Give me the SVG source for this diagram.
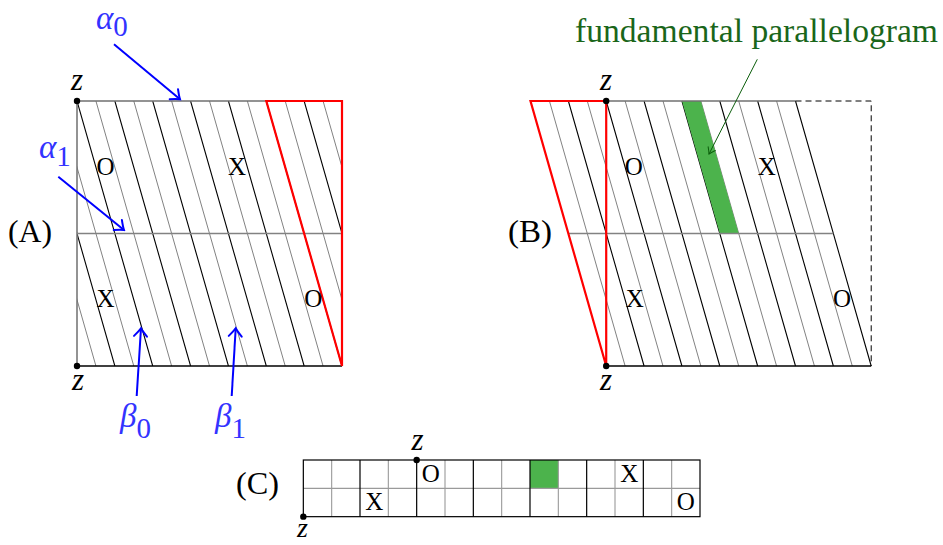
<svg xmlns="http://www.w3.org/2000/svg" width="943" height="545" viewBox="0 0 943 545">
<style>
.bk{stroke:#000;stroke-width:1.1;fill:none}
.gr{stroke:#828282;stroke-width:1;fill:none}
.bd{stroke:#707070;stroke-width:1.5;fill:none}
.bb{stroke:#000;stroke-width:1.4;fill:none}
.red{stroke:#ff0000;stroke-width:2.2;fill:none;stroke-linejoin:miter}
.dash{stroke:#000;stroke-width:1;fill:none;stroke-dasharray:6,4}
.lab{font-family:"Liberation Serif","DejaVu Serif",serif;font-size:25px;fill:#000;text-anchor:middle}
.pl{font-family:"Liberation Serif","DejaVu Serif",serif;font-size:31px;fill:#000}
.z{font-family:"Liberation Serif","DejaVu Serif",serif;font-style:italic;font-size:31px;fill:#000;text-anchor:middle}
.gk{font-family:"Liberation Serif","DejaVu Serif",serif;fill:#3333ff}
.ba{stroke:#0000ff;stroke-width:2;fill:none}
.ga{stroke:#0b5e0b;stroke-width:1;fill:none}
.cg{stroke:#9a9a9a;stroke-width:1.1;fill:none}
.cb{stroke:#000;stroke-width:1.2;fill:none}
</style>
<defs>
<clipPath id="clipA"><rect x="77" y="101" width="265" height="265"/></clipPath>
<marker id="ab" markerUnits="userSpaceOnUse" viewBox="-10 -8 12 16" refX="0" refY="0" markerWidth="12" markerHeight="16" orient="auto"><path d="M-8,-6.5 Q-2.5,-1.5 0,0 Q-2.5,1.5 -8,6.5" fill="none" stroke="#0000ff" stroke-width="2" stroke-linecap="round"/></marker>
<marker id="ag" markerUnits="userSpaceOnUse" viewBox="-7 -5 8 10" refX="0" refY="0" markerWidth="8" markerHeight="10" orient="auto"><path d="M-6,-4 Q-1.8,-0.9 0,0 Q-1.8,0.9 -6,4" fill="none" stroke="#0b5e0b" stroke-width="1" stroke-linecap="round"/></marker>
</defs>
<rect width="943" height="545" fill="#fff"/>

<g id="panelA">
<g clip-path="url(#clipA)">
<path class="gr" d="M20.21,101L95.93,366M58.07,101L133.79,366M95.93,101L171.64,366M133.79,101L209.5,366M171.64,101L247.36,366M209.5,101L285.21,366M247.36,101L323.07,366M285.21,101L360.93,366M323.07,101L398.79,366"/>
<path class="bk" d="M1.29,101L77,366M39.14,101L114.86,366M77,101L152.71,366M114.86,101L190.57,366M152.71,101L228.43,366M190.57,101L266.29,366M228.43,101L304.14,366M266.29,101L342,366M304.14,101L379.86,366"/>
</g>
<path class="bd" d="M77,366V101H266.3"/>
<path class="gr" d="M77,233.5H342" style="stroke-width:1.3"/>
<path class="bb" d="M77,366H342"/>
<path class="red" d="M266.3,101H342V366Z"/>
<circle cx="77" cy="101" r="3.2"/>
<circle cx="77" cy="366" r="3.2"/>
<text class="z" x="77" y="90">z</text>
<text class="z" x="78" y="390">z</text>
<text class="lab" x="105.5" y="175">O</text>
<text class="lab" x="237" y="175">X</text>
<text class="lab" x="105.5" y="306.7">X</text>
<text class="lab" x="313.3" y="306.7">O</text>
<text class="pl" x="8" y="242" textLength="44" lengthAdjust="spacingAndGlyphs">(A)</text>
</g>

<g id="panelB">
<path class="gr" d="M549.43,101L625.14,366M587.29,101L663,366M625.14,101L700.86,366M663,101L738.71,366M700.86,101L776.57,366M738.71,101L814.43,366M776.57,101L852.29,366"/>
<path class="bk" d="M568.36,101L644.07,366M606.21,101L681.93,366M644.07,101L719.79,366M681.93,101L757.64,366M719.79,101L795.5,366M757.64,101L833.36,366M795.5,101L871.21,366"/>
<polygon points="681.93,101 700.86,101 738.71,233.5 719.79,233.5" fill="#4cb34c"/>
<path class="bd" d="M606.21,101H795.5"/>
<path class="dash" d="M795.5,101H871.21V366"/>
<path class="gr" d="M568.36,233.5H833.36" style="stroke-width:1.3"/>
<path class="bb" d="M606.21,366H871.21"/>
<path class="red" d="M530.5,101H606.21V366Z"/>
<circle cx="606.21" cy="101" r="3.2"/>
<circle cx="606.21" cy="366" r="3.2"/>
<text class="z" x="606" y="90">z</text>
<text class="z" x="606" y="390">z</text>
<text class="lab" x="633.7" y="175">O</text>
<text class="lab" x="766.7" y="175">X</text>
<text class="lab" x="634.7" y="306.7">X</text>
<text class="lab" x="842" y="306.7">O</text>
<text class="pl" x="508" y="242" textLength="44" lengthAdjust="spacingAndGlyphs">(B)</text>
</g>

<g id="panelC">
<rect x="530" y="460" width="28.33" height="28.33" fill="#4cb34c"/>
<path class="cg" d="M331.67,460V516.67M388.33,460V516.67M445,460V516.67M501.67,460V516.67M558.33,460V516.67M615,460V516.67M671.67,460V516.67M303.33,488.33H700"/>
<path class="cb" d="M360,460V516.67M416.67,460V516.67M473.33,460V516.67M530,460V516.67M586.67,460V516.67M643.33,460V516.67"/>
<rect class="cb" x="303.33" y="460" width="396.67" height="56.67"/>
<circle cx="416.67" cy="460" r="3.2"/>
<circle cx="303.33" cy="516.67" r="3.2"/>
<text class="z" x="417.5" y="450">z</text>
<text class="z" x="302.5" y="537" style="font-size:28px">z</text>
<text class="lab" x="430.8" y="482">O</text>
<text class="lab" x="629.2" y="482">X</text>
<text class="lab" x="374.2" y="510">X</text>
<text class="lab" x="685.8" y="510">O</text>
<text class="pl" x="236" y="494" textLength="43" lengthAdjust="spacingAndGlyphs">(C)</text>
</g>

<g id="labels">
<text class="gk" x="96" y="29"><tspan font-style="italic" font-size="33">α</tspan><tspan font-size="29" dy="7">0</tspan></text>
<text class="gk" x="39" y="158"><tspan font-style="italic" font-size="33">α</tspan><tspan font-size="29" dy="8">1</tspan></text>
<text class="gk" x="120" y="427"><tspan font-style="italic" font-size="33">β</tspan><tspan font-size="29" dy="11">0</tspan></text>
<text class="gk" x="215" y="427"><tspan font-style="italic" font-size="33">β</tspan><tspan font-size="29" dy="11">1</tspan></text>
<text id="fp" x="575" y="42" textLength="363" lengthAdjust="spacingAndGlyphs" style="font-family:'Liberation Serif','DejaVu Serif',serif;font-size:34px;fill:#1a661a">fundamental parallelogram</text>
</g>

<g id="connectors">
<line class="ba" x1="114" y1="44.3" x2="180" y2="99.3" marker-end="url(#ab)"/>
<line class="ba" x1="58.3" y1="176.7" x2="124" y2="230" marker-end="url(#ab)"/>
<line class="ba" x1="136.7" y1="396" x2="141" y2="328.3" marker-end="url(#ab)"/>
<line class="ba" x1="231.7" y1="396" x2="235.7" y2="328.3" marker-end="url(#ab)"/>
<line class="ga" x1="757.3" y1="59.3" x2="709" y2="154" marker-end="url(#ag)"/>
</g>
</svg>
